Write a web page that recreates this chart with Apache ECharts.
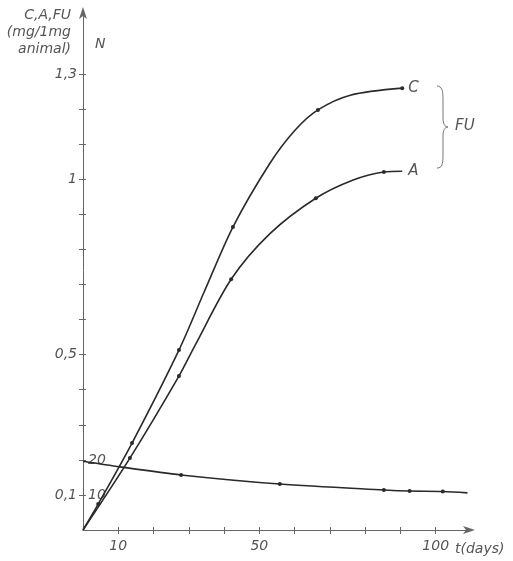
<!DOCTYPE html>
<html>
<head>
<meta charset="utf-8">
<script src="https://cdn.jsdelivr.net/npm/echarts@6/dist/echarts.min.js"></script>
<style>html,body{margin:0;padding:0;background:#fff}#c{width:513px;height:561px}</style>
</head>
<body>
<div id="c"></div>
<script>
const tC   = [0, 4.3, 13.9, 27.2, 34.4, 42.5, 53.0, 60.1, 66.6, 75.8, 90.5];
const valC = [0, 0.074, 0.248, 0.513, 0.68, 0.864, 1.046, 1.14, 1.198, 1.24, 1.26];
const dotC = [0, 1, 1, 1, 0, 1, 0, 0, 1, 0, 1];
// Curve A
const tA   = [0, 13.3, 27.2, 31.7, 42.0, 53.0, 66.0, 76.6, 85.3, 90.5];
const valA = [0, 0.205, 0.439, 0.525, 0.715, 0.845, 0.946, 0.998, 1.021, 1.023];
const dotA = [0, 1, 1, 0, 1, 0, 1, 0, 1, 0];
// Curve N
const tN   = [0, 10.5, 27.8, 55.8, 85.3, 92.6, 102, 109];
const valN = [19.6, 18.0, 15.7, 13.1, 11.4, 11.1, 11.0, 10.6];
const dotN = [0, 0, 1, 1, 1, 1, 1, 0];
// ticks / labels
const xTicks = [10, 20, 30, 40, 50, 60, 70, 80, 90, 100];
const xLabels = [10, 50, 100];
const yTicks = [0.1, 0.2, 0.3, 0.4, 0.5, 0.6, 0.7, 0.8, 0.9, 1, 1.1, 1.2, 1.3];
const yLabels = [0.1, 0.5, 1, 1.3];
const nLabels = [10, 20];

const txt = {fontFamily: 'DejaVu Sans', fontStyle: 'italic', color: '#555', fontSize: 14};
const lineCol = '#2a2a2a';
function build(t, v, d) {
  return t.map((x, i) => ({value: [x, v[i]], symbol: d[i] ? 'circle' : 'none'}));
}
const braceStyle = {fill: 'none', stroke: '#777', lineWidth: 1};
function bz(x1, y1, cx1, cy1, cx2, cy2, x2, y2) {
  return {type: 'bezierCurve', silent: true, shape: {x1, y1, cpx1: cx1, cpy1: cy1, cpx2: cx2, cpy2: cy2, x2, y2}, style: braceStyle};
}
function ln(x1, y1, x2, y2) {
  return {type: 'line', silent: true, shape: {x1, y1, x2, y2}, style: braceStyle};
}
const chart = echarts.init(document.getElementById('c'), null, {renderer: 'canvas'});
chart.setOption({
  animation: false,
  backgroundColor: '#fff',
  grid: {left: 83, right: 42, top: 11, bottom: 31},
  xAxis: [{
    type: 'value', min: 0, max: 110,
    name: 't(days)', nameLocation: 'end', nameGap: -16,
    nameTextStyle: Object.assign({}, txt, {align: 'left', verticalAlign: 'top', padding: [12, 0, 0, 0]}),
    axisLine: {show: true, lineStyle: {color: '#666', width: 1}, symbol: ['none', 'arrow'], symbolSize: [6, 12], symbolOffset: [0, 4]},
    axisTick: {show: true, customValues: xTicks, length: 4, lineStyle: {color: '#666'}},
    axisLabel: Object.assign({}, txt, {customValues: xLabels, margin: 9}),
    splitLine: {show: false}
  }, {
    type: 'value', min: 0, max: 110, position: 'bottom', offset: 0,
    axisLine: {show: false},
    axisTick: {show: true, inside: true, customValues: xTicks, length: 3, lineStyle: {color: '#666'}},
    axisLabel: {show: false},
    splitLine: {show: false}
  }],
  yAxis: [{
    type: 'value', min: 0, max: 1.48,
    name: 'C,A,FU\n(mg/1mg\nanimal)', nameLocation: 'end', nameGap: 0,
    nameTextStyle: Object.assign({}, txt, {lineHeight: 17, align: 'right', verticalAlign: 'top', padding: [-4, 12, 0, 0]}),
    axisLine: {show: true, lineStyle: {color: '#666', width: 1}, symbol: ['none', 'arrow'], symbolSize: [6, 12], symbolOffset: [0, 4]},
    axisTick: {show: true, customValues: yTicks, length: 4, lineStyle: {color: '#666'}},
    axisLabel: Object.assign({}, txt, {customValues: yLabels, margin: 6, formatter: v => String(v).replace('.', ',')}),
    splitLine: {show: false}
  }, {
    type: 'value', min: 0, max: 148, position: 'left', offset: 0,
    name: 'N', nameLocation: 'end', nameGap: -33,
    nameTextStyle: Object.assign({}, txt, {align: 'left', verticalAlign: 'middle', padding: [0, 0, 0, 12]}),
    axisLine: {show: false},
    axisTick: {show: true, inside: true, customValues: yTicks.map(v => Math.round(v * 100)), length: 3, lineStyle: {color: '#666'}},
    axisLabel: Object.assign({}, txt, {inside: true, customValues: nLabels, margin: 5}),
    splitLine: {show: false}
  }],
  series: [{
    type: 'line', name: 'C', yAxisIndex: 0, smooth: 0.3,
    data: build(tC, valC, dotC), symbolSize: 4,
    lineStyle: {color: lineCol, width: 1.6}, itemStyle: {color: lineCol},
    endLabel: Object.assign({show: true, formatter: 'C', distance: 6}, txt, {fontSize: 15})
  }, {
    type: 'line', name: 'A', yAxisIndex: 0, smooth: 0.3,
    data: build(tA, valA, dotA), symbolSize: 4,
    lineStyle: {color: lineCol, width: 1.6}, itemStyle: {color: lineCol},
    endLabel: Object.assign({show: true, formatter: 'A', distance: 6}, txt, {fontSize: 15})
  }, {
    type: 'line', name: 'N', yAxisIndex: 1, smooth: 0.3,
    data: build(tN, valN, dotN), symbolSize: 4,
    lineStyle: {color: lineCol, width: 1.6}, itemStyle: {color: lineCol}
  }],
  graphic: [
    bz(437, 86, 442, 86, 443, 91, 443, 99),
    ln(443, 99, 443, 118),
    bz(443, 118, 443, 124, 445, 127, 448, 127),
    bz(448, 127, 445, 127, 443, 130, 443, 136),
    ln(443, 136, 443, 156),
    bz(443, 156, 443, 164, 442, 168, 437, 168),
    {
      type: 'text', left: 455, top: 119, silent: true,
      style: {text: 'FU', fontFamily: 'DejaVu Sans', fontStyle: 'italic', fontSize: 15, fill: '#555'}
    }
  ]
});
</script>
</body>
</html>
